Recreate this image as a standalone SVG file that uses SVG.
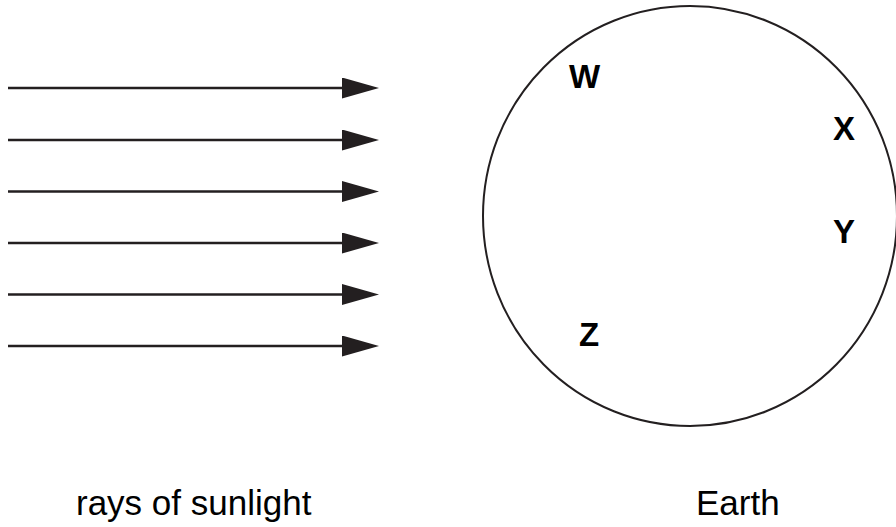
<svg xmlns="http://www.w3.org/2000/svg" width="896" height="527" viewBox="0 0 896 527">
  <style>
    .ray { stroke: #231f20; stroke-width: 2.5; fill: none; marker-end: url(#head); }
    .earth { stroke: #231f20; stroke-width: 2; fill: none; }
    .pt { font-family: "Liberation Sans", Arial, sans-serif; font-weight: bold; font-size: 33px; fill: #000; }
    .cap { font-family: "Liberation Sans", Arial, sans-serif; font-size: 35px; fill: #000; }
  </style>
  <defs>
    <marker id="head" markerUnits="userSpaceOnUse" viewBox="0 0 37 21" refX="0" refY="10.5" markerWidth="37" markerHeight="21" orient="auto">
      <polygon points="0,0 37,10.5 0,21" fill="#231f20"/>
    </marker>
  </defs>
  <rect width="896" height="527" fill="#fff"/>
  <g id="connectors">
    <line class="ray" x1="8" y1="88" x2="342" y2="88"/>
    <line class="ray" x1="8" y1="140" x2="342" y2="140"/>
    <line class="ray" x1="8" y1="191.5" x2="342" y2="191.5"/>
    <line class="ray" x1="8" y1="243" x2="342" y2="243"/>
    <line class="ray" x1="8" y1="294.5" x2="342" y2="294.5"/>
    <line class="ray" x1="8" y1="346" x2="342" y2="346"/>
  </g>
  <g id="earth">
    <ellipse class="earth" cx="690" cy="216" rx="207" ry="210"/>
    <text class="pt" x="569" y="88">W</text>
    <text class="pt" x="833" y="140">X</text>
    <text class="pt" x="833" y="243">Y</text>
    <text class="pt" x="579" y="346">Z</text>
  </g>
  <g id="labels">
    <text class="cap" x="76" y="515">rays of sunlight</text>
    <text class="cap" x="696" y="515">Earth</text>
  </g>
</svg>
